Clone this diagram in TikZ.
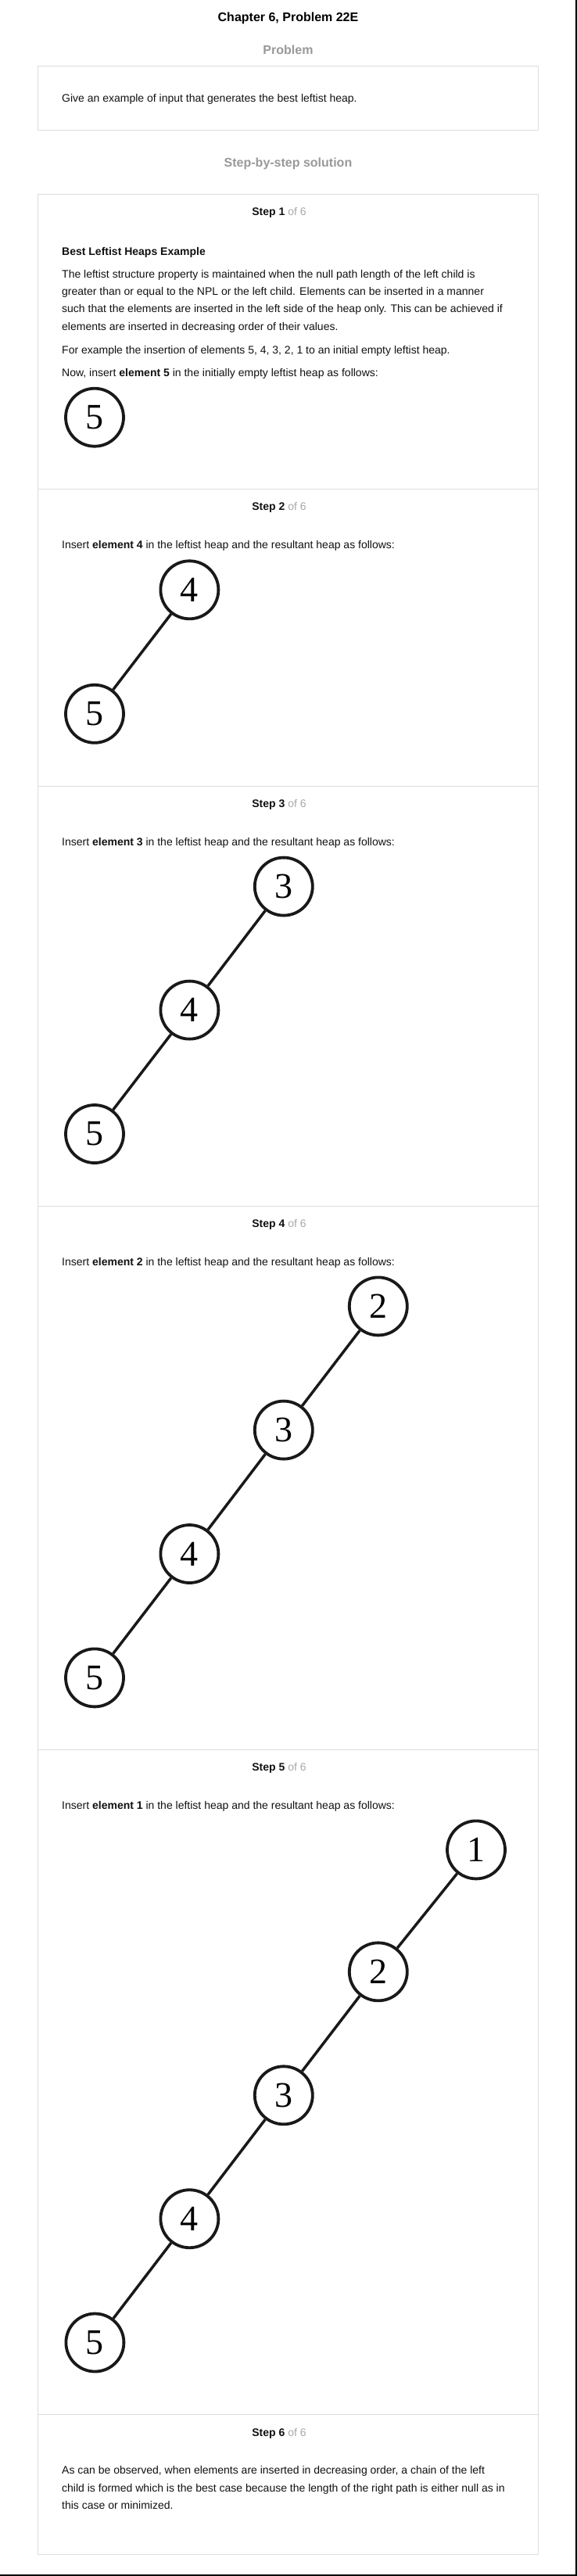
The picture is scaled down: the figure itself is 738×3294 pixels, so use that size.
\documentclass[tikz,border=0pt]{standalone}
\usepackage{fontspec}
\setmainfont{Liberation Sans}
\newfontfamily\numfont{Liberation Serif}
\definecolor{boxgray}{HTML}{DDDDDD}
\definecolor{headgray}{HTML}{999999}
\definecolor{ofgray}{HTML}{A8A8A8}
\definecolor{bodytext}{HTML}{111111}
\begin{document}
\begin{tikzpicture}[x=1pt,y=-1pt,
  txt/.style={anchor=base west, inner sep=0pt, text=bodytext, font=\fontsize{14}{16}\selectfont},
  hdr/.style={anchor=base, inner sep=0pt, text=bodytext, font=\fontsize{14}{16}\selectfont},
  ttl/.style={anchor=base, inner sep=0pt, font=\fontsize{16}{19}\selectfont\bfseries},
  heapnode/.style={circle, draw=black!90, line width=3.8pt, minimum size=74pt, inner sep=0pt, font=\numfont\fontsize{46}{46}\selectfont},
  heapedge/.style={line width=3.5pt, draw=black!90},
  panel/.style={draw=boxgray, line width=1pt}]
\useasboundingbox (0,0) rectangle (738,3294);
\fill[white] (0,0) rectangle (738,3294);
% outer frame (right and bottom)
\draw[line width=1.8pt] (737.1,0) -- (737.1,3293.1) -- (0,3293.1);

% header
\node[ttl] (title) at (368.5,27.3) {Chapter 6, Problem 22E};
\node[ttl, text=headgray] (probhead) at (368.5,69.3) {Problem};
\draw[panel] (48.5,84.3) rectangle (688.5,166.3);
\node[txt] (probtext) at (79,130.7) {Give an example of input that generates the best leftist heap.};
\node[ttl, text=headgray] (solhead) at (368.5,214) {Step-by-step solution};

% solution panel
\draw[panel] (48.5,249) rectangle (688.5,3266.4);
\draw[panel] (48.5,625) -- (688.5,625);
\draw[panel] (48.5,1005.4) -- (688.5,1005.4);
\draw[panel] (48.5,1542) -- (688.5,1542);
\draw[panel] (48.5,2237) -- (688.5,2237);
\draw[panel] (48.5,3087.6) -- (688.5,3087.6);

% step 1
\node[hdr] (st1) at (357,276) {\textbf{Step 1} \textcolor{ofgray}{of 6}};
\node[txt] (bl) at (79,326) {\textbf{Best Leftist Heaps Example}};
\node[txt] (p1a) at (79,355) {The leftist structure property is maintained when the null path length of the left child is};
\node[txt] (p1b) at (79,377.4) {greater than or equal to the NPL or the left child. Elements can be inserted in a manner};
\node[txt] (p1c) at (79,399.8) {such that the elements are inserted in the left side of the heap only. This can be achieved if};
\node[txt] (p1d) at (79,422.2) {elements are inserted in decreasing order of their values.};
\node[txt] (p1e) at (79,452.3) {For example the insertion of elements 5, 4, 3, 2, 1 to an initial empty leftist heap.};
\node[txt] (p1f) at (79,481) {Now, insert \textbf{element 5} in the initially empty leftist heap as follows:};
\node[heapnode] (a5) at (121,533.7) {5};

% step 2
\node[hdr] (st2) at (357,652) {\textbf{Step 2} \textcolor{ofgray}{of 6}};
\node[txt] (p2) at (79,701) {Insert \textbf{element 4} in the leftist heap and the resultant heap as follows:};
\node[heapnode] (b4) at (242.4,754.3) {4};
\node[heapnode] (b5) at (121,912.8) {5};
\draw[heapedge] (b4) -- (b5);

% step 3
\node[hdr] (st3) at (357,1032.5) {\textbf{Step 3} \textcolor{ofgray}{of 6}};
\node[txt] (p3) at (79,1081.4) {Insert \textbf{element 3} in the leftist heap and the resultant heap as follows:};
\node[heapnode] (c3) at (362.8,1133.6) {3};
\node[heapnode] (c4) at (242.4,1291.6) {4};
\node[heapnode] (c5) at (121,1450) {5};
\draw[heapedge] (c3) -- (c4);
\draw[heapedge] (c4) -- (c5);

% step 4
\node[hdr] (st4) at (357,1569.2) {\textbf{Step 4} \textcolor{ofgray}{of 6}};
\node[txt] (p4) at (79,1618) {Insert \textbf{element 2} in the leftist heap and the resultant heap as follows:};
\node[heapnode] (d2) at (483.8,1670.4) {2};
\node[heapnode] (d3) at (362.8,1828.6) {3};
\node[heapnode] (d4) at (242.4,1987) {4};
\node[heapnode] (d5) at (121,2145.4) {5};
\draw[heapedge] (d2) -- (d3);
\draw[heapedge] (d3) -- (d4);
\draw[heapedge] (d4) -- (d5);

% step 5
\node[hdr] (st5) at (357,2264) {\textbf{Step 5} \textcolor{ofgray}{of 6}};
\node[txt] (p5) at (79,2313) {Insert \textbf{element 1} in the leftist heap and the resultant heap as follows:};
\node[heapnode] (e1) at (609,2365.4) {1};
\node[heapnode] (e2) at (483.8,2521.3) {2};
\node[heapnode] (e3) at (362.8,2679.3) {3};
\node[heapnode] (e4) at (242.4,2837.2) {4};
\node[heapnode] (e5) at (121.4,2995.5) {5};
\draw[heapedge] (e1) -- (e2);
\draw[heapedge] (e2) -- (e3);
\draw[heapedge] (e3) -- (e4);
\draw[heapedge] (e4) -- (e5);

% step 6
\node[hdr] (st6) at (357,3115) {\textbf{Step 6} \textcolor{ofgray}{of 6}};
\node[txt] (p6a) at (79,3163.6) {As can be observed, when elements are inserted in decreasing order, a chain of the left};
\node[txt] (p6b) at (79,3186) {child is formed which is the best case because the length of the right path is either null as in};
\node[txt] (p6c) at (79,3208.4) {this case or minimized.};
\end{tikzpicture}
\end{document}
